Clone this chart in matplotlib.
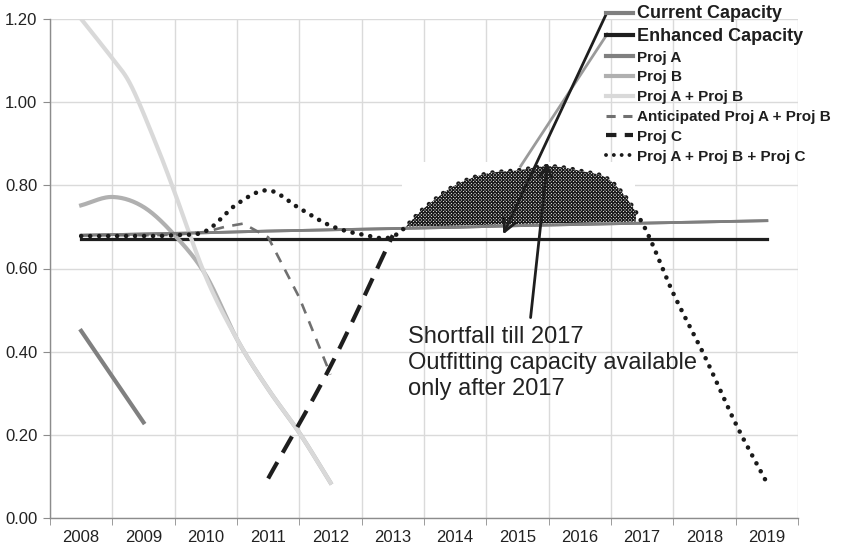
import numpy as np
import matplotlib
matplotlib.use("Agg")
import matplotlib.pyplot as plt
from matplotlib.lines import Line2D

plt.rcParams['font.family'] = ['Liberation Sans', 'DejaVu Sans']
plt.rcParams['hatch.linewidth'] = 0.9
plt.rcParams['hatch.color'] = '#1e1e1e'

# category axis
years = list(range(2008, 2020))
year_labels = [str(y) for y in years]

# straight capacity lines, one value per year
current_capacity = [0.680, 0.683, 0.686, 0.690, 0.693, 0.696, 0.699, 0.703, 0.706, 0.709, 0.712, 0.715]
enhanced_capacity = [0.672] * 12

# project curves, read at half-year steps
proj_a_x = [2008, 2009]
proj_a = [0.45, 0.23]

proj_b_x = [2008, 2008.5, 2009, 2009.5, 2010, 2010.5, 2011, 2011.5, 2012]
proj_b = [0.752, 0.772, 0.748, 0.680, 0.584, 0.430, 0.310, 0.205, 0.085]

proj_ab_x = [2008, 2008.5, 2008.8, 2009.2, 2009.5, 2010, 2010.5, 2011, 2011.5, 2012]
proj_ab = [1.200, 1.105, 1.040, 0.900, 0.783, 0.580, 0.430, 0.310, 0.205, 0.085]

antic_x = [2008, 2009, 2009.5, 2010, 2010.3, 2010.6, 2011, 2011.5, 2012]
antic_ab = [0.680, 0.680, 0.681, 0.688, 0.700, 0.708, 0.675, 0.530, 0.345]

proj_c_x = [2011, 2012, 2013]
proj_c = [0.095, 0.365, 0.680]

abc_x = [2008, 2009, 2009.5, 2010, 2010.5, 2011, 2011.5, 2012, 2012.5, 2013,
         2013.5, 2014, 2014.5, 2015, 2015.5, 2016, 2016.5, 2017, 2017.5, 2018, 2018.5, 2019]
proj_abc = [0.678, 0.678, 0.680, 0.690, 0.755, 0.788, 0.745, 0.703, 0.682, 0.677,
            0.745, 0.800, 0.828, 0.836, 0.846, 0.835, 0.810, 0.710, 0.540, 0.390, 0.227, 0.085]


def smooth(x, y, n=24):
    # catmull-rom through the points, like excel's smoothed line
    p = np.column_stack([x, y]).astype(float)
    if len(p) < 3:
        return p[:, 0], p[:, 1]
    ext = np.vstack([2 * p[0] - p[1], p, 2 * p[-1] - p[-2]])
    out = []
    for i in range(1, len(ext) - 2):
        p0, p1, p2, p3 = ext[i - 1], ext[i], ext[i + 1], ext[i + 2]
        t = np.linspace(0, 1, n, endpoint=False)[:, None]
        m1 = (p2 - p0) / 2
        m2 = (p3 - p1) / 2
        h00 = 2 * t**3 - 3 * t**2 + 1
        h10 = t**3 - 2 * t**2 + t
        h01 = -2 * t**3 + 3 * t**2
        h11 = t**3 - t**2
        out.append(h00 * p1 + h10 * m1 + h01 * p2 + h11 * m2)
    out.append(p[-1][None, :])
    out = np.vstack(out)
    return out[:, 0], out[:, 1]


fig = plt.figure(figsize=(8.42, 5.51), dpi=100)
ax = fig.add_axes([50 / 842, 1 - 518 / 551, 748 / 842, 499 / 551])

ax.set_xlim(2007.5, 2019.5)
ax.set_ylim(0, 1.2)
ax.set_xticks(years)
ax.set_xticklabels(year_labels)
ax.set_xticks(np.arange(2007.5, 2020, 1), minor=True)
ax.set_yticks(np.arange(0, 1.21, 0.2))
ax.set_yticklabels([f"{v:.2f}" for v in np.arange(0, 1.21, 0.2)])
ax.tick_params(axis='x', which='major', length=0, labelsize=12, labelcolor='#222222', pad=9)
ax.tick_params(axis='x', which='minor', length=5, color='#8c8c8c', direction='out')
ax.tick_params(axis='y', length=5, color='#8c8c8c', labelsize=12, labelcolor='#222222', pad=4)
ax.grid(True, axis='x', which='minor', color='#dadada', lw=1)
ax.grid(True, axis='y', which='major', color='#dadada', lw=1)
ax.set_axisbelow(True)
for s in ['top', 'right']:
    ax.spines[s].set_visible(False)
for s in ['left', 'bottom']:
    ax.spines[s].set_color('#8c8c8c')
    ax.spines[s].set_linewidth(1)

ax.plot(years, enhanced_capacity, color='#1e1e1e', lw=2.3, zorder=3)
ax.plot(years, current_capacity, color='#7f7f7f', lw=2.0, zorder=3)
ax.plot(proj_a_x, proj_a, color='#808080', lw=3, zorder=3)
ax.plot(*smooth(proj_b_x, proj_b), color='#b0b0b0', lw=3, zorder=3)
ax.plot(*smooth(proj_ab_x, proj_ab), color='#d9d9d9', lw=3, zorder=3)
ax.plot(antic_x, antic_ab, color='#707070', lw=1.9, ls=(0, (4, 3.2)), zorder=4)
ax.plot(*smooth(proj_c_x, proj_c), color='#1e1e1e', lw=3, ls=(0, (4.5, 2.6)), zorder=4)
ax.plot(*smooth(abc_x, proj_abc), color='#1a1a1a', lw=3.3, ls=(0, (0.01, 1.95)),
        dash_capstyle='round', zorder=4)

# shortfall area between the combined curve and current capacity
sx, sy = smooth(abc_x, proj_abc, n=40)
cap = np.interp(sx, years, current_capacity)
mask = (sx >= 2013.15) & (sx <= 2016.9) & (sy > cap)
ax.fill_between([2013.15, 2016.88], 0.712, 0.856, color='white', lw=0, zorder=3.5)
ax.plot(years, current_capacity, color='#7f7f7f', lw=2.0, zorder=3.6)
ax.fill_between(sx[mask], cap[mask] + 0.004, sy[mask], facecolor='white',
                hatch='xxxxxxxxxx', lw=0, zorder=5)

# pointers from the legend and the note
ax.annotate('', xy=(2014.77, 0.682), xytext=(2016.43, 1.214),
            arrowprops=dict(arrowstyle='->', lw=2, color='#1e1e1e', mutation_scale=22,
                            shrinkA=0, shrinkB=0), annotation_clip=False, zorder=6)
ax.plot([2016.44, 2015.05], [1.164, 0.846], color='#9a9a9a', lw=2, clip_on=False, zorder=5.5)
ax.annotate('', xy=(2015.48, 0.855), xytext=(2015.21, 0.482),
            arrowprops=dict(arrowstyle='->', lw=2, color='#1e1e1e', mutation_scale=22,
                            shrinkA=0, shrinkB=0), annotation_clip=False, zorder=6)
ax.text(2013.25, 0.373, "Shortfall till 2017\nOutfitting capacity available\nonly after 2017",
        ha='left', va='center', fontsize=17, color='#222222', linespacing=1.22, zorder=6)

handles = [
    Line2D([], [], color='#7f7f7f', lw=3),
    Line2D([], [], color='#1e1e1e', lw=3),
    Line2D([], [], color='#808080', lw=3),
    Line2D([], [], color='#b0b0b0', lw=3),
    Line2D([], [], color='#d9d9d9', lw=3),
    Line2D([], [], color='#707070', lw=2.2, ls=(0, (3, 2.5))),
    Line2D([], [], color='#1e1e1e', lw=3, ls=(0, (2.5, 2))),
    Line2D([], [], color='#1a1a1a', lw=2.8, ls=(0, (0.01, 2.0)), dash_capstyle='round'),
]
labels = ["Current Capacity", "Enhanced Capacity", "Proj A", "Proj B", "Proj A + Proj B",
          "Anticipated Proj A + Proj B", "Proj C", "Proj A + Proj B + Proj C"]
leg = fig.legend(handles, labels, loc='upper left', bbox_to_anchor=(606 / 842, 1 - 5 / 551),
                 frameon=False, prop={'weight': 'bold', 'size': 11}, handlelength=1.75,
                 handletextpad=0.25, labelspacing=0.38, borderpad=0, borderaxespad=0)
for t in leg.get_texts()[:2]:
    t.set_fontsize(13)
for t in leg.get_texts():
    t.set_color('#1e1e1e')

fig.savefig("out.png", dpi=100, facecolor='white')
